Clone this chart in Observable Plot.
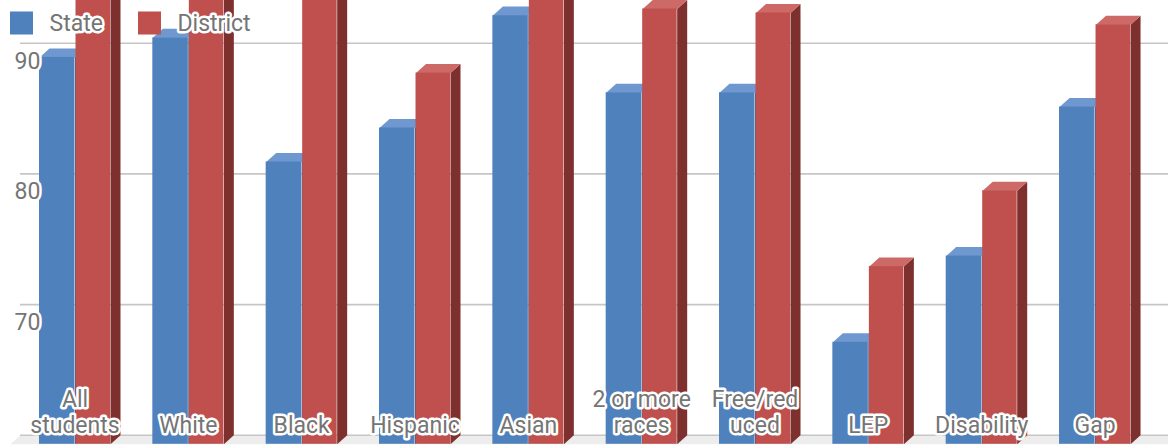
<!DOCTYPE html>
<html>
<head>
<meta charset="utf-8">
<script src="https://cdn.jsdelivr.net/npm/d3@7"></script>
<script src="https://cdn.jsdelivr.net/npm/@observablehq/plot@0.6"></script>
<style>
  html, body { margin: 0; padding: 0; background: #fff; overflow: hidden; }
  #chart svg { display: block; }
</style>
</head>
<body>
<div id="chart"></div>
<script>
// ---- data ----
const categories = ["All students", "White", "Black", "Hispanic", "Asian", "2 or more races", "Free/reduced", "LEP", "Disability", "Gap"];
const catLabels = ["All\nstudents", "White", "Black", "Hispanic", "Asian", "2 or more\nraces", "Free/red\nuced", "LEP", "Disability", "Gap"];
const stateValues = [89.6, 91.1, 81.6, 84.2, 92.8, 86.9, 86.9, 67.8, 74.4, 85.8];
const districtValues = [96.0, 96.0, 95.5, 88.4, 97.0, 93.3, 93.0, 73.6, 79.4, 92.1];
const yTicks = [70, 80, 90];
const series = ["State", "District"];

// ---- layout / style ----
const W = 1168, H = 445;
const xRange = [17.83, 1151.2];        // pixel range for domain [-0.5, 9.5]
const yRange = [443.8, 51.7];          // pixel range for domain [60, 90] (front plane)
const pxPerX = (xRange[1] - xRange[0]) / 10;
const pxPerY = (yRange[0] - yRange[1]) / 30;
const depthPx = [10, -9];
const dX = depthPx[0] / pxPerX, dY = -depthPx[1] / pxPerY;
const barW = 35.5 / pxPerX;
const gapX = 1 / pxPerX;
const base = 60;
const colors = {
  State: {front: "#4f81bd", top: "#6e98cf", side: "#385f8e"},
  District: {front: "#c0504d", top: "#cd6967", side: "#7e302f"}
};
const font = "Roboto, 'Noto Sans', sans-serif";
const txtColor = "#757575";

const records = [];
categories.forEach((c, i) => {
  records.push({series: "State", i, value: stateValues[i], x1: i - barW, x2: i});
  records.push({series: "District", i, value: districtValues[i], x1: i + gapX, x2: i + barW});
});

function facePoints(s, kind) {
  const pts = [];
  records.filter(r => r.series === s).forEach(r => {
    const id = `${s}-${r.i}-${kind}`;
    const v = r.value;
    let poly;
    if (kind === "top") {
      poly = [[r.x1, v], [r.x2, v], [r.x2 + dX, v + dY], [r.x1 + dX, v + dY]];
    } else {
      poly = [[r.x2, base], [r.x2, v], [r.x2 + dX, v + dY], [r.x2 + dX, base + dY]];
    }
    poly.forEach(([x, y]) => pts.push({id, x, y}));
  });
  return pts;
}

const xL = -0.5 - (xRange[0] - 10) / pxPerX;
const xR = 9.5 + (W - xRange[1] + 20) / pxPerX;
const floor = [
  {id: "floor", x: xL, y: base},
  {id: "floor", x: xR, y: base},
  {id: "floor", x: xR, y: base + dY},
  {id: "floor", x: xL + dX, y: base + dY}
];

const marks = [
  Plot.line(floor, {x: "x", y: "y", z: "id", fill: "#ededed", stroke: null, curve: "linear-closed"}),
  Plot.ruleY([base, ...yTicks], {x1: xL, x2: xR, dx: depthPx[0], dy: depthPx[1], stroke: "#c6c6c6", strokeWidth: 1.6})
];
for (const s of series) {
  const rs = records.filter(r => r.series === s);
  marks.push(
    Plot.line(facePoints(s, "side"), {x: "x", y: "y", z: "id", fill: colors[s].side, stroke: null, curve: "linear-closed"}),
    Plot.line(facePoints(s, "top"), {x: "x", y: "y", z: "id", fill: colors[s].top, stroke: null, curve: "linear-closed"}),
    Plot.rect(rs, {x1: "x1", x2: "x2", y1: base, y2: "value", fill: colors[s].front})
  );
}
// category labels
marks.push(
  Plot.text(catLabels, {
    x: (d, i) => i, frameAnchor: "bottom", text: d => d, lineAnchor: "bottom", dy: -13,
    fontSize: 23, lineHeight: 1.13, fontFamily: font, fill: txtColor,
    stroke: "white", strokeWidth: 5, paintOrder: "stroke"
  })
);
// y tick labels
marks.push(
  Plot.text(yTicks, {
    y: d => d, text: d => String(d), frameAnchor: "left", textAnchor: "start", lineAnchor: "middle", dx: 14, dy: 9,
    fontSize: 23, fontFamily: font, fill: txtColor, stroke: "white", strokeWidth: 5, paintOrder: "stroke"
  })
);
// legend
const legendX = [21, 149];
series.forEach((s, k) => {
  marks.push(
    Plot.dot([s], {frameAnchor: "top-left", dx: legendX[k], dy: 22.5, symbol: "square", r: 13, fill: colors[s].front, stroke: null}),
    Plot.text([s], {frameAnchor: "top-left", dx: legendX[k] + 28, dy: 23, text: d => d, textAnchor: "start", lineAnchor: "middle",
      fontSize: 23, fontFamily: font, fill: txtColor, stroke: "white", strokeWidth: 5, paintOrder: "stroke"})
  );
});

const chart = Plot.plot({
  width: W, height: H,
  marginLeft: 0, marginRight: 0, marginTop: 0, marginBottom: 0,
  x: {type: "linear", domain: [-0.5, 9.5], range: xRange, axis: null},
  y: {type: "linear", domain: [60, 90], range: yRange, axis: null},
  style: {background: "white", overflow: "hidden"},
  marks
});
document.getElementById("chart").append(chart);
</script>
</body>
</html>
